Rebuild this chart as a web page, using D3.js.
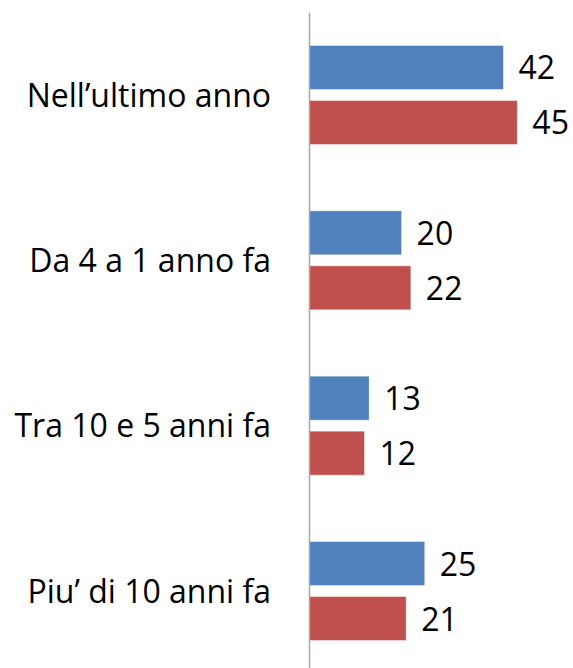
<!DOCTYPE html>
<html>
<head>
<meta charset="utf-8">
<script src="https://cdn.jsdelivr.net/npm/d3@7"></script>
<style>
  html, body { margin: 0; padding: 0; background: #fff; }
  svg { display: block; }
</style>
</head>
<body>
<svg id="chart"></svg>
<script>
// data
const categories = ["Nell\u2019ultimo anno", "Da 4 a 1 anno fa", "Tra 10 e 5 anni fa", "Piu\u2019 di 10 anni fa"];
const seriesNames = ["serie1", "serie2"];
const serie1 = [42, 20, 13, 25];
const serie2 = [45, 22, 12, 21];
const seriesColors = ["#4F81BD", "#C0504D"];

/***********************
 * dimensions
 ************************/
const width = 573;
const height = 668;
const plot = { left: 309, top: 12.3, bottom: 673.7 };

const svg = d3.select("#chart")
  .attr("width", width)
  .attr("height", height)
  .attr("viewBox", [0, 0, width, height]);

const fontFamily = "'Open Sans', Lato, sans-serif";

/***********************
 * scales
 ************************/
const x = d3.scaleLinear().domain([0, 50]).range([plot.left, plot.left + 50 * 4.63]);
const y = d3.scaleBand().domain(categories).range([plot.top, plot.bottom]);
const inner = d3.scaleBand().domain(seriesNames).range([0, 99]).paddingInner(0.2);
const innerOffset = (y.bandwidth() - 99) / 2;

const rows = categories.flatMap((c, i) => [
  { cat: c, series: "serie1", value: serie1[i], color: seriesColors[0] },
  { cat: c, series: "serie2", value: serie2[i], color: seriesColors[1] }
]);

// bars
svg.append("g")
  .selectAll("rect")
  .data(rows)
  .join("rect")
  .attr("x", x(0))
  .attr("y", d => y(d.cat) + innerOffset + inner(d.series))
  .attr("width", d => x(d.value) - x(0))
  .attr("height", inner.bandwidth())
  .attr("fill", d => d.color)
  .attr("stroke", "rgba(255,255,255,0.45)")
  .attr("stroke-width", 1);

// value labels
svg.append("g")
  .selectAll("text")
  .data(rows)
  .join("text")
  .attr("x", d => x(d.value) + 15)
  .attr("y", d => y(d.cat) + innerOffset + inner(d.series) + inner.bandwidth() / 2 + 12)
  .attr("font-family", fontFamily)
  .attr("font-size", 32)
  .attr("fill", "#000")
  .text(d => d.value);

// category axis
const axis = svg.append("g")
  .attr("transform", `translate(${x(0)},0)`)
  .call(d3.axisLeft(y).tickSize(0).tickPadding(38));

axis.select(".domain")
  .attr("stroke", "#A6A6A6")
  .attr("stroke-width", 1.5);

axis.selectAll("text")
  .attr("font-family", fontFamily)
  .attr("font-size", 32)
  .attr("fill", "#000")
  .attr("dy", "0.36em");
</script>
</body>
</html>
